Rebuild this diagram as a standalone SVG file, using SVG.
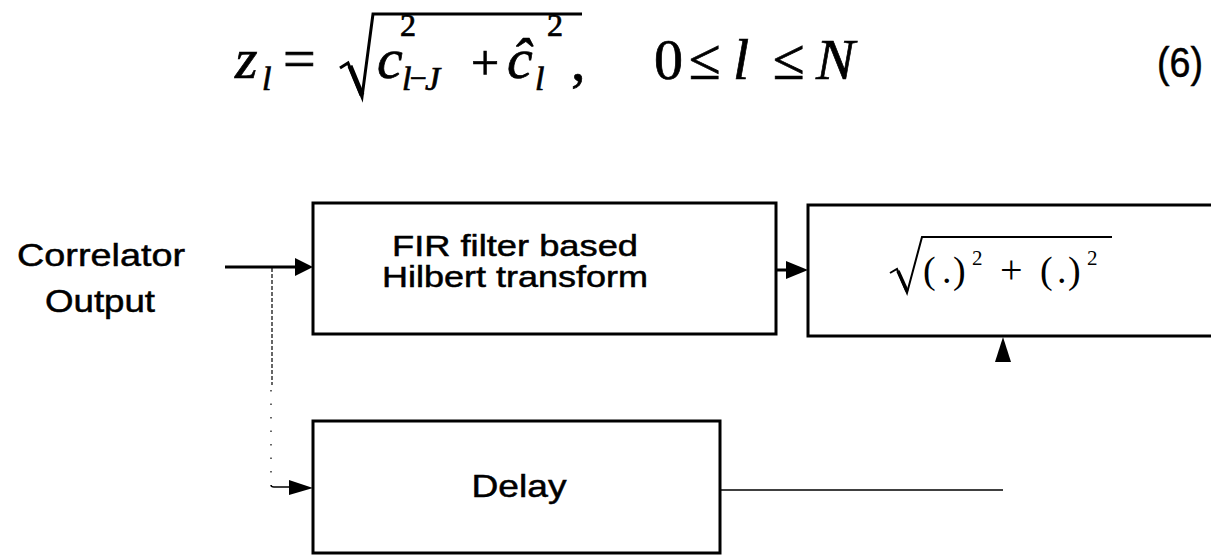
<svg xmlns="http://www.w3.org/2000/svg" width="1211" height="558" viewBox="0 0 1211 558">
<style>
.sans{font-family:"Liberation Sans",Arial,sans-serif;fill:#000;stroke:#000;stroke-width:0.5}
.ser{font-family:"Liberation Serif","Times New Roman",serif;fill:#000}
.eq{stroke:#000;stroke-width:0.7}
.it{font-style:italic}
.box{fill:#fff;stroke:#000;stroke-width:3}
.ln{fill:none;stroke:#000}
</style>
<rect width="1211" height="558" fill="#fff"/>
<g id="equation">
<path class="ln" d="M340,68 L348,63 L362,97 L373,14 L582,14" stroke-width="3"/>
<path class="ln" d="M350,66 L362,95" stroke-width="5"/>
<text class="ser eq" font-size="58"><tspan class="it" x="235" y="78">z</tspan><tspan class="it" x="262" y="90" font-size="34">l</tspan><tspan x="283" y="78">=</tspan><tspan class="it" x="377" y="78">c</tspan><tspan x="400" y="36" font-size="32">2</tspan><tspan class="it" x="402" y="90" font-size="34">l</tspan><tspan x="410" y="88" font-size="30">−</tspan><tspan class="it" x="425" y="90" font-size="34">J</tspan><tspan x="471" y="80" font-size="50">+</tspan><tspan class="it" x="507" y="78">ĉ</tspan><tspan class="it" x="535" y="90" font-size="34">l</tspan><tspan x="547" y="36" font-size="32">2</tspan><tspan x="571" y="80">,</tspan><tspan x="654" y="79">0</tspan><tspan x="689" y="79">≤</tspan><tspan class="it" x="733" y="79">l</tspan><tspan x="773" y="79">≤</tspan><tspan class="it" x="816" y="79">N</tspan></text>
<text class="sans" x="1157" y="77" font-size="42" textLength="46" lengthAdjust="spacingAndGlyphs">(6)</text>
</g>
<g id="input-label">
<text class="sans" x="101" y="266" font-size="32" text-anchor="middle" textLength="168" lengthAdjust="spacingAndGlyphs">Correlator</text>
<text class="sans" x="100" y="312" font-size="32" text-anchor="middle" textLength="110" lengthAdjust="spacingAndGlyphs">Output</text>
</g>
<g id="hilbert">
<rect class="box" x="313" y="203" width="463" height="131"/>
<text class="sans" font-size="30" text-anchor="middle"><tspan x="515" y="256" textLength="246" lengthAdjust="spacingAndGlyphs">FIR filter based</tspan><tspan x="515" y="287" textLength="266" lengthAdjust="spacingAndGlyphs">Hilbert transform</tspan></text>
</g>
<g id="magnitude">
<rect class="box" x="808" y="205" width="410" height="131"/>
<path class="ln" d="M890,273 L897,269 L907,293 L922,237 L1112,237" stroke-width="2"/>
<path class="ln" d="M898,271 L907,291" stroke-width="3.5"/>
<text class="ser" font-size="38"><tspan x="923" y="283">(</tspan><tspan x="942" y="283">.</tspan><tspan x="953" y="283">)</tspan><tspan x="972" y="265" font-size="21">2</tspan><tspan x="1000" y="283" font-size="40">+</tspan><tspan x="1040" y="283">(</tspan><tspan x="1057" y="283">.</tspan><tspan x="1068" y="283">)</tspan><tspan x="1087" y="265" font-size="21">2</tspan></text>
</g>
<g id="delay">
<rect class="box" x="313" y="421" width="407" height="132"/>
<text class="sans" x="519" y="497" font-size="32" text-anchor="middle" textLength="95" lengthAdjust="spacingAndGlyphs">Delay</text>
</g>
<g id="connectors">
<path class="ln" d="M225,267 L297,267" stroke-width="3"/>
<polygon points="313,267 295,258 295,276" fill="#000"/>
<path class="ln" d="M776,270 L790,270" stroke-width="3"/>
<polygon points="808,270 786,261 786,279" fill="#000"/>
<path class="ln" d="M272,268 L272,385" stroke="#555" stroke-width="1.2" stroke-dasharray="4 2"/>
<path class="ln" d="M271,390 L271,482" stroke="#777" stroke-width="1.2" stroke-dasharray="1.5 12"/>
<path class="ln" d="M271,485 Q271,487 274,487 L292,487" stroke-width="1.5"/>
<polygon points="313,488 289,480 289,495" fill="#000"/>
<path class="ln" d="M720,490 L1003,490" stroke="#222" stroke-width="1.5"/>
<polygon points="1003,337 995,362 1011,362" fill="#000"/>
</g>
</svg>
